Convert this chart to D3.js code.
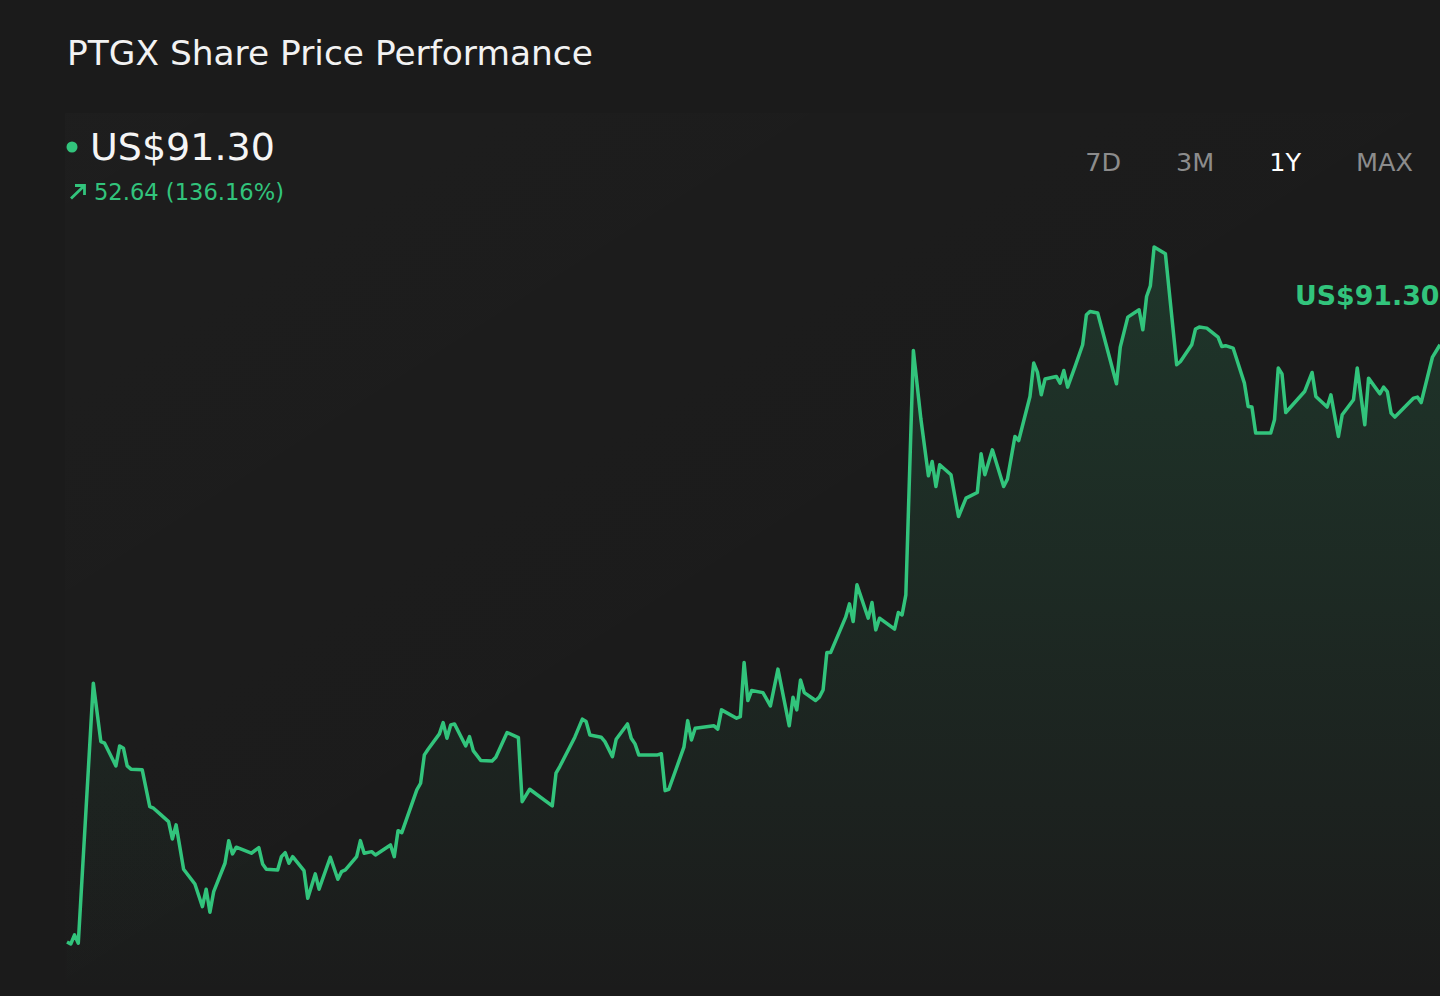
<!DOCTYPE html>
<html><head><meta charset="utf-8">
<script src="https://cdn.jsdelivr.net/npm/d3@7"></script>
<style>html,body{margin:0;padding:0;background:#1b1b1b;overflow:hidden}</style>
</head><body>
<svg id="chart" width="1440" height="996"></svg>
<script>
const title = "PTGX Share Price Performance";
const lastPriceLabel = "US$91.30";
const changeLabel = "52.64 (136.16%)";
const ranges = ["7D", "3M", "1Y", "MAX"];
const activeRange = "1Y";

// calendar day offset within the 1-year window
const days = [0,1,2,3,7,9,10,13,14,15,16,17,20,22,23,25,27,28,29,31,34,36,37,38,39,42,43,44,45,49,51,52,53,56,57,58,59,60,63,64,
66,67,70,72,73,74,77,78,79,81,82,86,87,88,89,93,94,95,96,99,100,101,102,103,106,107,108,110,113,114,117,120,121,123,129,130,131,
135,137,138,139,142,143,145,146,149,150,151,152,157,158,159,160,164,165,166,167,172,173,174,178,179,180,181,182,185,187,189,192,193,194,195,196,199,200,201,202,
203,207,208,209,210,213,214,215,216,220,221,222,223,225,227,229,230,231,232,235,237,239,242,243,244,246,249,250,252,253,256,257,258,259,260,263,
264,265,266,268,270,271,272,274,279,280,282,285,286,287,288,289,292,295,296,299,300,301,303,306,307,308,310,313,314,315,316,320,321,322,323,324,329,331,332,335,336,338,339,342,343,345,346,349,350,351,352,353,358,359,360,363,365];
// share price (US$)
const prices = [38.66,38.48,39.28,38.55,61.47,56.32,56.18,54.18,55.94,55.74,54.18,53.89,53.83,50.59,50.45,49.86,49.27,47.74,48.98,45.07,43.77,41.77,43.31,41.28,43.10,45.60,47.59,46.42,47.01,46.48,46.97,45.54,45.07,45.01,46.18,46.53,45.60,46.18,44.95,42.51,
44.66,43.31,46.13,44.19,44.86,45.01,46.18,47.59,46.48,46.62,46.33,47.21,46.18,48.47,48.30,52.06,52.65,55.15,55.65,57.00,58.00,56.62,57.79,57.88,55.94,56.76,55.53,54.65,54.62,54.95,57.12,56.67,51.03,52.12,50.65,53.54,54.12,
56.71,58.30,58.09,56.91,56.71,56.32,55.00,56.53,57.88,56.62,56.12,55.15,55.15,55.25,52.00,52.12,55.83,58.17,56.47,57.50,57.71,57.42,59.12,58.38,58.53,63.29,59.94,60.82,60.64,59.47,62.71,57.71,60.24,59.12,61.76,60.64,59.94,60.24,60.88,64.17,
64.17,67.29,68.46,66.90,70.14,67.20,68.58,66.17,67.20,66.23,67.70,67.49,69.26,90.80,84.75,79.75,81.01,78.81,80.72,79.84,76.16,77.78,78.28,81.69,79.84,82.04,78.81,79.46,83.22,82.86,86.74,89.69,88.86,86.89,88.28,88.51,
87.92,89.03,87.57,89.39,91.30,93.95,94.24,94.10,87.86,91.10,93.74,94.39,92.62,95.56,96.50,99.92,99.33,89.54,89.83,91.30,92.69,92.86,92.77,91.98,91.15,91.22,91.01,87.92,85.86,85.81,83.52,83.52,84.69,89.25,88.74,85.33,87.18,88.86,86.74,85.81,86.89,83.22,85.13,86.45,89.25,84.25,88.36,86.98,87.57,87.18,85.28,84.93,86.60,86.69,86.21,90.22,91.30];

const data = days.map((d, i) => ({ day: d, price: prices[i] }));
const green = "#32c47c";
const svg = d3.select("#chart");
const font = "'DejaVu Sans', Verdana, sans-serif";

const defs = svg.append("defs");
const areaGrad = defs.append("linearGradient").attr("id", "areaGrad")
  .attr("x1", 0).attr("y1", 0).attr("x2", 0).attr("y2", 1);
areaGrad.append("stop").attr("offset", "0%").attr("stop-color", green).attr("stop-opacity", 0.16);
areaGrad.append("stop").attr("offset", "100%").attr("stop-color", green).attr("stop-opacity", 0.0);
const panelGrad = defs.append("linearGradient").attr("id", "panelGrad")
  .attr("x1", 0).attr("y1", 0).attr("x2", 1).attr("y2", 1);
panelGrad.append("stop").attr("offset", "0%").attr("stop-color", "#ffffff").attr("stop-opacity", 0.012);
panelGrad.append("stop").attr("offset", "60%").attr("stop-color", "#ffffff").attr("stop-opacity", 0.0);

svg.append("rect").attr("width", 1440).attr("height", 996).attr("fill", "#1b1b1b");
svg.append("rect").attr("x", 65).attr("y", 113).attr("width", 1375).attr("height", 883).attr("fill", "url(#panelGrad)");

const x = d3.scaleLinear().domain([0, 365]).range([67, 1440]);
const y = d3.scaleLinear().domain(d3.extent(prices)).range([944, 247]);

const area = d3.area().x(d => x(d.day)).y0(996).y1(d => y(d.price));
const line = d3.line().x(d => x(d.day)).y(d => y(d.price));

svg.append("path").datum(data).attr("d", area).attr("fill", "url(#areaGrad)");
svg.append("path").datum(data).attr("d", line).attr("fill", "none")
  .attr("stroke", green).attr("stroke-width", 3.5).attr("stroke-linejoin", "round");

// header
svg.append("text").attr("x", 67).attr("y", 65).text(title)
  .attr("fill", "#f2f2f2").attr("font-family", font).attr("font-size", 34.4);
svg.append("circle").attr("cx", 72).attr("cy", 147).attr("r", 5.5).attr("fill", green);
svg.append("text").attr("x", 90).attr("y", 160).text(lastPriceLabel)
  .attr("fill", "#f5f5f5").attr("font-family", font).attr("font-size", 38);
// up-arrow icon
svg.append("path").attr("d", "M71,198.5 L84.5,185.5 M75,185.5 L84.5,185.5 L84.5,195")
  .attr("fill", "none").attr("stroke", green).attr("stroke-width", 2.8)
  .attr("stroke-linecap", "butt").attr("stroke-linejoin", "miter");
svg.append("text").attr("x", 94).attr("y", 200).text(changeLabel)
  .attr("fill", green).attr("font-family", font).attr("font-size", 22.6);

// range buttons, right-aligned with equal gaps
const btns = svg.selectAll("text.rng").data(ranges).join("text").attr("class", "rng")
  .attr("y", 171).attr("font-family", font).attr("font-size", 25.5)
  .attr("fill", d => d === activeRange ? "#ffffff" : "#8c8c8c").text(d => d);
let cursor = 1413;
const nodes = btns.nodes();
for (let i = nodes.length - 1; i >= 0; i--) {
  const w = nodes[i].getComputedTextLength();
  d3.select(nodes[i]).attr("x", cursor - w);
  cursor = cursor - w - 55;
}

// last price tag
svg.append("text").attr("x", 1295).attr("y", 304.5).text(lastPriceLabel)
  .attr("fill", green).attr("font-family", font).attr("font-size", 26.8).attr("font-weight", "bold");
</script>
</body></html>
